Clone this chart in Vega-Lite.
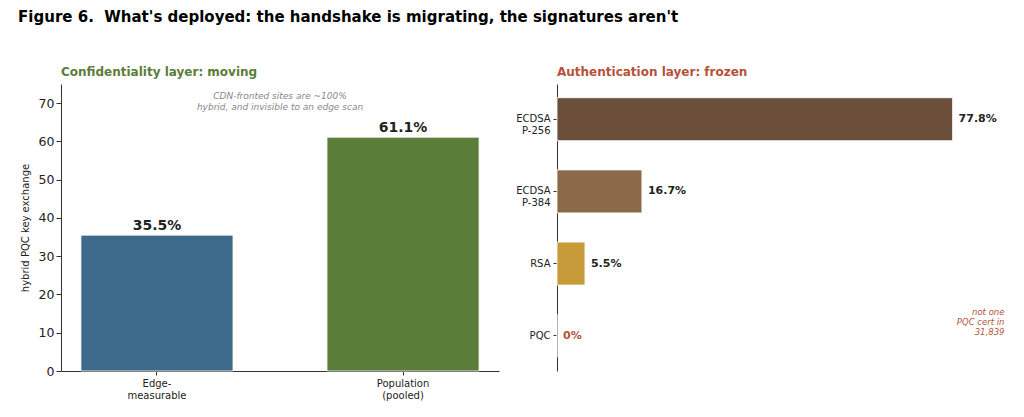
{
  "$schema": "https://vega.github.io/schema/vega-lite/v6.json",
  "background": "white",
  "padding": {"left": 18, "top": 10, "right": 5, "bottom": 5},
  "config": {
    "font": "DejaVu Sans",
    "view": {"stroke": null},
    "axis": {
      "labelFont": "DejaVu Sans",
      "titleFont": "DejaVu Sans",
      "domainColor": "#333",
      "tickColor": "#333",
      "labelColor": "#222",
      "titleColor": "#222",
      "grid": false
    }
  },
  "title": {
    "text": "Figure 6.\u00a0 What's deployed: the handshake is migrating, the signatures aren't",
    "anchor": "start",
    "fontSize": 15,
    "fontWeight": "bold",
    "color": "#000",
    "offset": 41,
    "dx": -2
  },
  "datasets": {
    "kex": [
      {"group": "Edge-\nmeasurable", "value": 35.5, "label": "35.5%"},
      {"group": "Population\n(pooled)", "value": 61.1, "label": "61.1%"}
    ],
    "sig": [
      {"alg": "ECDSA\nP-256", "share": 77.8, "label": "77.8%"},
      {"alg": "ECDSA\nP-384", "share": 16.7, "label": "16.7%"},
      {"alg": "RSA", "share": 5.5, "label": "5.5%"},
      {"alg": "PQC", "share": 0, "label": "0%"}
    ]
  },
  "spacing": 16,
  "resolve": {"scale": {"color": "independent", "x": "independent", "y": "independent"}},
  "hconcat": [
    {
      "width": 438,
      "height": 287,
      "title": {
        "text": "Confidentiality layer: moving",
        "anchor": "start",
        "frame": "group",
        "color": "#5a7d3a",
        "fontSize": 12,
        "fontWeight": "bold",
        "offset": 5
      },
      "data": {"name": "kex"},
      "layer": [
        {
          "mark": {"type": "bar", "stroke": "white", "strokeWidth": 0.8},
          "encoding": {
            "x": {
              "field": "group",
              "type": "nominal",
              "sort": null,
              "scale": {"paddingInner": 0.382, "paddingOuter": 0.081},
              "axis": {
                "title": null,
                "labelAngle": 0,
                "labelExpr": "split(datum.label, '\\n')",
                "labelFontSize": 10,
                "labelLineHeight": 12,
                "tickSize": 4,
                "labelPadding": 3
              }
            },
            "y": {
              "field": "value",
              "type": "quantitative",
              "scale": {"domain": [0, 75], "nice": false},
              "axis": {
                "values": [0, 10, 20, 30, 40, 50, 60, 70],
                "title": "hybrid PQC key exchange",
                "titleFontSize": 10,
                "titleFontWeight": "normal",
                "titlePadding": 8,
                "labelFontSize": 12.5,
                "tickSize": 5
              }
            },
            "color": {
              "field": "group",
              "type": "nominal",
              "sort": null,
              "scale": {"range": ["#3d6a8a", "#5a7d3a"]},
              "legend": null
            }
          }
        },
        {
          "mark": {"type": "text", "dy": -9, "fontWeight": "bold", "fontSize": 14, "color": "#222"},
          "encoding": {
            "x": {"field": "group", "type": "nominal", "sort": null},
            "y": {"field": "value", "type": "quantitative"},
            "text": {"field": "label"}
          }
        },
        {
          "data": {"values": [{"note": "CDN-fronted sites are ~100%\nhybrid, and invisible to an edge scan", "y": 73}]},
          "mark": {
            "type": "text",
            "lineBreak": "\n",
            "baseline": "top",
            "fontSize": 9,
            "fontStyle": "italic",
            "color": "#888",
            "lineHeight": 11
          },
          "encoding": {
            "y": {"field": "y", "type": "quantitative"},
            "text": {"field": "note"}
          }
        }
      ]
    },
    {
      "width": 450,
      "height": 287,
      "title": {
        "text": "Authentication layer: frozen",
        "anchor": "start",
        "frame": "group",
        "color": "#b5523b",
        "fontSize": 12,
        "fontWeight": "bold",
        "offset": 5
      },
      "data": {"name": "sig"},
      "layer": [
        {
          "mark": {"type": "bar", "stroke": "white", "strokeWidth": 0.8},
          "encoding": {
            "y": {
              "field": "alg",
              "type": "nominal",
              "sort": null,
              "scale": {
                "domain": ["ECDSA\nP-256", "ECDSA\nP-384", "RSA", "PQC"],
                "paddingInner": 0.405,
                "paddingOuter": 0.19
              },
              "axis": {
                "title": null,
                "labelExpr": "split(datum.label, '\\n')",
                "labelFontSize": 10,
                "labelLineHeight": 12,
                "tickSize": 4,
                "labelPadding": 3
              }
            },
            "x": {
              "field": "share",
              "type": "quantitative",
              "scale": {"domain": [0, 88.5], "nice": false},
              "axis": null
            },
            "color": {
              "field": "alg",
              "type": "nominal",
              "sort": null,
              "scale": {
                "domain": ["ECDSA\nP-256", "ECDSA\nP-384", "RSA", "PQC"],
                "range": ["#6b4f3a", "#8b6a4a", "#c79a3a", "#b5523b"]
              },
              "legend": null
            }
          }
        },
        {
          "mark": {"type": "text", "align": "left", "dx": 6, "fontWeight": "bold", "fontSize": 11},
          "encoding": {
            "y": {"field": "alg", "type": "nominal", "sort": null},
            "x": {"field": "share", "type": "quantitative"},
            "text": {"field": "label"},
            "color": {
              "condition": {"test": "datum.share == 0", "value": "#b5523b"},
              "value": "#222"
            }
          }
        },
        {
          "data": {"values": [{"alg": "PQC", "x": 88.0, "note": "not one\nPQC cert in\n31,839"}]},
          "mark": {
            "type": "text",
            "align": "right",
            "baseline": "middle",
            "dy": -24,
            "lineBreak": "\n",
            "lineHeight": 10,
            "fontSize": 8.5,
            "fontStyle": "italic",
            "color": "#b5523b"
          },
          "encoding": {
            "y": {"field": "alg", "type": "nominal", "sort": null},
            "x": {"field": "x", "type": "quantitative"},
            "text": {"field": "note"}
          }
        }
      ]
    }
  ]
}
